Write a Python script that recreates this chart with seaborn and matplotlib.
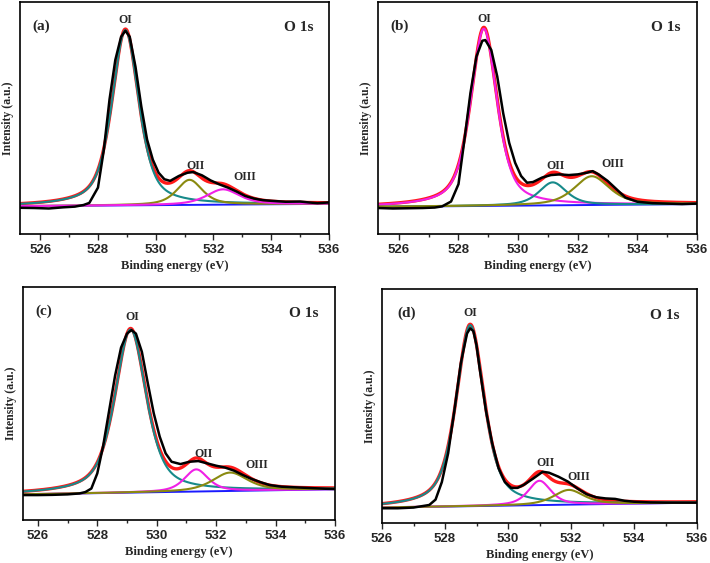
import numpy as np
import pandas as pd
import matplotlib
matplotlib.use("Agg")
import matplotlib.pyplot as plt
import seaborn as sns
from matplotlib.ticker import MultipleLocator

# ------------------------------------------------------------------ data
panel_tags = ["(a)", "(b)", "(c)", "(d)"]
component_names = ["OI", "OII", "OIII"]
tick_values = [526, 528, 530, 532, 534, 536]

a_energy = [525.3, 525.8, 526.3, 526.8, 527.2, 527.5, 527.7, 528.0, 528.2, 528.4,
            528.6, 528.8, 528.95, 529.1, 529.3, 529.5, 529.7, 529.9, 530.1, 530.3,
            530.5, 530.8, 531.1, 531.3, 531.6, 531.9, 532.2, 532.5, 532.8, 533.1,
            533.4, 533.7, 534.0, 534.5, 535.0, 535.3, 535.6, 536.0]
a_intensity = [11.3, 11.2, 11.0, 11.5, 11.8, 12.5, 13.4, 20.0, 36.0, 58.0,
               75.0, 85.0, 87.6, 85.0, 72.0, 55.0, 40.7, 32.0, 26.4, 23.6,
               22.9, 25.0, 26.4, 26.7, 25.3, 23.1, 21.4, 20.0, 18.3, 16.4,
               15.3, 14.6, 14.3, 13.9, 14.0, 13.6, 13.3, 13.6]

b_energy = [525.3, 525.8, 526.3, 526.8, 527.2, 527.45, 527.75, 528.0, 528.2, 528.4,
            528.6, 528.8, 528.9, 529.1, 529.3, 529.5, 529.7, 529.9, 530.1, 530.3,
            530.5, 530.8, 531.1, 531.4, 531.7, 532.0, 532.3, 532.5, 532.7, 533.0,
            533.3, 533.6, 534.0, 534.5, 535.0, 535.5, 536.0]
b_intensity = [11.2, 11.0, 11.1, 11.2, 11.4, 11.9, 14.0, 21.5, 40.7, 60.7,
               76.4, 83.3, 83.6, 79.3, 67.9, 52.0, 39.3, 30.7, 25.0, 22.1,
               22.4, 24.3, 25.4, 25.7, 25.4, 25.7, 26.4, 27.1, 25.7, 22.9,
               19.3, 15.7, 13.9, 13.3, 13.1, 12.9, 13.1]

c_energy = [525.5, 526.0, 526.5, 527.0, 527.4, 527.6, 527.8, 528.0, 528.2, 528.4,
            528.6, 528.8, 529.0, 529.15, 529.3, 529.5, 529.7, 529.9, 530.1, 530.3,
            530.5, 530.8, 531.1, 531.4, 531.7, 532.0, 532.3, 532.6, 532.9, 533.2,
            533.5, 533.8, 534.2, 534.7, 535.2, 535.7, 536.0]
c_intensity = [10.7, 10.7, 10.8, 11.0, 11.4, 12.0, 13.5, 20.0, 32.0, 47.0,
               62.0, 74.0, 80.0, 81.5, 80.0, 72.2, 58.7, 45.8, 35.8, 28.6,
               25.0, 24.0, 25.0, 25.3, 24.3, 23.3, 22.5, 21.2, 19.3, 17.6,
               16.2, 15.0, 14.3, 14.0, 13.7, 13.4, 13.3]

d_energy = [526.0, 526.5, 527.0, 527.5, 527.7, 527.9, 528.1, 528.3, 528.5, 528.7,
            528.8, 528.9, 529.0, 529.1, 529.3, 529.5, 529.7, 529.9, 530.1, 530.3,
            530.5, 530.8, 531.1, 531.3, 531.6, 531.9, 532.2, 532.5, 532.8, 533.1,
            533.4, 533.7, 534.0, 534.5, 535.0, 535.5, 536.0]
d_intensity = [6.3, 6.3, 6.6, 7.7, 10.0, 17.5, 29.8, 48.3, 68.2, 81.0,
               83.2, 82.0, 76.0, 66.0, 48.0, 34.0, 23.5, 17.5, 15.0, 15.0,
               16.3, 19.0, 21.9, 21.5, 19.8, 17.7, 14.8, 12.3, 11.0, 10.5,
               10.3, 9.5, 9.1, 8.8, 8.7, 8.7, 8.7]

# fitted components (OI, OII, OIII): centre (eV), height above background, FWHM (eV)
a_centre = [528.95, 531.17, 532.33]
a_height = [75.5, 10.8, 6.6]
a_fwhm = [1.10, 1.05, 1.35]
b_centre = [528.85, 531.16, 532.47]
b_height = [76.4, 9.9, 12.4]
b_fwhm = [1.05, 1.10, 1.40]
c_centre = [529.12, 531.33, 532.47]
c_height = [70.0, 9.5, 7.9]
c_fwhm = [1.25, 0.95, 1.40]
d_centre = [528.80, 531.00, 531.93]
d_height = [77.4, 10.4, 6.3]
d_fwhm = [1.05, 0.85, 1.15]
lorentz_fraction = 0.6

# linear background: value at low-energy end, value at 536 eV
a_background = [12.0, 13.0]
b_background = [11.7, 12.9]
c_background = [11.0, 13.2]
d_background = [6.6, 8.7]

# label positions (eV, intensity)
a_label_pos = [(528.93, 92.2), (531.36, 29.4), (533.09, 24.7)]
b_label_pos = [(528.88, 92.8), (531.24, 29.4), (533.19, 30.0)]
c_label_pos = [(529.16, 87.0), (531.59, 28.3), (533.37, 23.6)]
d_label_pos = [(528.80, 89.6), (531.19, 25.5), (532.26, 19.8)]

# ------------------------------------------------------------------ style
sns.set_style("ticks")
plt.rcParams["font.family"] = ["Liberation Serif", "DejaVu Serif"]
plt.rcParams["font.weight"] = "bold"
plt.rcParams["axes.labelweight"] = "bold"

TEAL = "#178a8a"
OLIVE = "#8a8a10"
MAGENTA = "#f020e6"
RED = "#ff1a1a"
BLUE = "#1a1aff"

panels = [
    dict(tag=panel_tags[0], ex=a_energy, ey=a_intensity, c=a_centre, h=a_height, w=a_fwhm,
         bg=a_background, lab=a_label_pos, colors=[TEAL, OLIVE, MAGENTA], xlim=(525.3, 536.0),
         rect=[20 / 710, 1 - 234 / 563, 309 / 710, 232 / 563]),
    dict(tag=panel_tags[1], ex=b_energy, ey=b_intensity, c=b_centre, h=b_height, w=b_fwhm,
         bg=b_background, lab=b_label_pos, colors=[MAGENTA, TEAL, OLIVE], xlim=(525.3, 536.0),
         rect=[378 / 710, 1 - 234 / 563, 319 / 710, 232 / 563]),
    dict(tag=panel_tags[2], ex=c_energy, ey=c_intensity, c=c_centre, h=c_height, w=c_fwhm,
         bg=c_background, lab=c_label_pos, colors=[TEAL, MAGENTA, OLIVE], xlim=(525.5, 536.0),
         rect=[23 / 710, 1 - 520 / 563, 312 / 710, 233 / 563]),
    dict(tag=panel_tags[3], ex=d_energy, ey=d_intensity, c=d_centre, h=d_height, w=d_fwhm,
         bg=d_background, lab=d_label_pos, colors=[TEAL, MAGENTA, OLIVE], xlim=(526.0, 536.0),
         rect=[382 / 710, 1 - 523 / 563, 315 / 710, 234 / 563]),
]


def pseudo_voigt(x, centre, height, fwhm, eta):
    d = (x - centre) / fwhm
    lor = 1.0 / (1.0 + 4.0 * d ** 2)
    gau = np.exp(-4.0 * np.log(2.0) * d ** 2)
    return height * (eta * lor + (1 - eta) * gau)


fig = plt.figure(figsize=(7.1, 5.63), dpi=100)

for p in panels:
    ax = fig.add_axes(p["rect"])
    x0, x1 = p["xlim"]
    grid = np.linspace(x0, x1, 600)
    bg = p["bg"][0] + (p["bg"][1] - p["bg"][0]) * (grid - x0) / (x1 - x0)
    comps = [pseudo_voigt(grid, c, h, w, lorentz_fraction)
             for c, h, w in zip(p["c"], p["h"], p["w"])]
    envelope = bg + sum(comps)

    sns.lineplot(x=grid, y=bg, color=BLUE, lw=1.4, ax=ax, estimator=None)
    sns.lineplot(x=grid, y=envelope, color=RED, lw=2.4, ax=ax, estimator=None)
    for comp, col in zip(comps, p["colors"]):
        sns.lineplot(x=grid, y=bg + comp, color=col, lw=1.5, ax=ax, estimator=None)
    sns.lineplot(x=p["ex"], y=p["ey"], color="black", lw=1.8, ax=ax, estimator=None)

    ax.set_xlim(x0, x1)
    ax.set_ylim(0, 100)
    ax.set_xticks(tick_values)
    ax.xaxis.set_minor_locator(MultipleLocator(1))
    ax.tick_params(axis="x", which="major", direction="out", length=4, width=1.0, pad=3,
                   labelsize=9.5, labelfontfamily="Liberation Sans")
    ax.tick_params(axis="x", which="minor", direction="out", length=2.5, width=1.0)
    ax.set_yticks([])
    for s in ax.spines.values():
        s.set_visible(True)
        s.set_linewidth(1.2)
        s.set_color("black")

    ax.set_xlabel("Binding energy (eV)", fontsize=9, fontweight="bold", labelpad=3)
    ax.set_ylabel("Intensity (a.u.)", fontsize=8.5, fontweight="bold", labelpad=4)

    span = x1 - x0
    ax.text(x0 + 0.04 * span if p["tag"] != "(d)" else 526.5, 89.5, p["tag"],
            fontsize=11, fontweight="bold", ha="left", va="center")
    ax.text(535.45, 88.8, "O 1s", fontsize=11, fontweight="bold", ha="right", va="center")
    for name, (lx, ly) in zip(component_names, p["lab"]):
        ax.text(lx, ly, name, fontsize=8.5, fontweight="bold", ha="center", va="center")

fig.savefig("out.png", dpi=100)
